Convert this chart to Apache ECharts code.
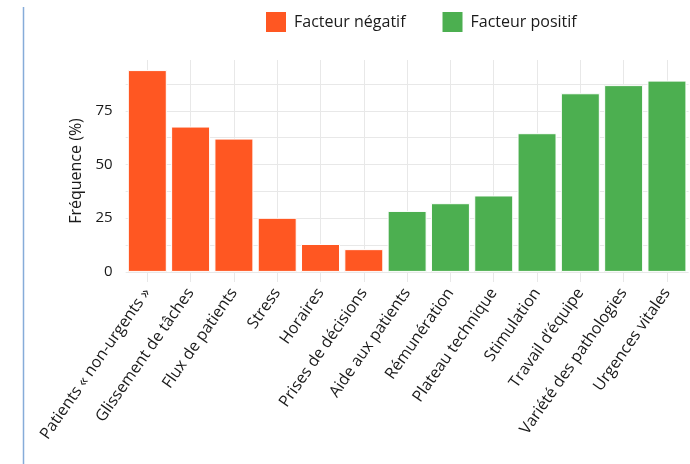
<!DOCTYPE html>
<html>
<head>
<meta charset="utf-8">
<script src="https://cdn.jsdelivr.net/npm/echarts@6/dist/echarts.min.js"></script>
<style>
html,body{margin:0;padding:0;background:#fff;}
#chart{width:690px;height:464px;}
</style>
</head>
<body>
<div id="chart"></div>
<script>
const categories = ["Patients « non-urgents »", "Glissement de tâches", "Flux de patients", "Stress", "Horaires", "Prises de décisions", "Aide aux patients", "Rémunération", "Plateau technique", "Stimulation", "Travail d’équipe", "Variété des pathologies", "Urgences vitales"];
const negatif = [94, 67.7, 62.1, 25.2, 13.0, 10.6, '-', '-', '-', '-', '-', '-', '-'];
const positif = ['-', '-', '-', '-', '-', '-', 28.4, 32.0, 35.6, 64.6, 83.2, 87.0, 89.1];
const yLabels = [0, 25, 50, 75];
const yGrid = [0, 12.5, 25, 37.5, 50, 62.5, 75, 87.5];

const FONT = '"Open Sans", "Noto Sans", sans-serif';
const chart = echarts.init(document.getElementById('chart'), null, {renderer: 'canvas'});
chart.setOption({
  animation: false,
  backgroundColor: '#ffffff',
  textStyle: {fontFamily: FONT},
  graphic: [{
    type: 'line',
    shape: {x1: 23.5, y1: 7, x2: 23.5, y2: 464},
    style: {stroke: '#86acd9', lineWidth: 1.5}
  }],
  legend: {
    left: 259, top: 5,
    itemWidth: 22, itemHeight: 22, itemGap: 35,
    icon: 'rect',
    textStyle: {fontSize: 16, color: '#1a1a1a', fontFamily: FONT, padding: [0, 0, 0, 2]},
    data: ['Facteur négatif', 'Facteur positif']
  },
  grid: {left: 125.65, right: 1.4, top: 60, bottom: 182, containLabel: false},
  xAxis: {
    type: 'category',
    data: categories,
    axisLine: {show: false},
    axisTick: {show: false},
    splitLine: {show: true, alignWithLabel: true, lineStyle: {color: '#e8e8e8', width: 1}},
    axisLabel: {interval: 0, rotate: 55, fontSize: 16, color: '#1a1a1a', margin: 8, fontFamily: FONT}
  },
  yAxis: {
    type: 'value',
    min: -4.7, max: 98.7,
    name: 'Fréquence (%)',
    nameLocation: 'middle',
    nameGap: 41,
    nameTextStyle: {fontSize: 16, color: '#1a1a1a', fontFamily: FONT},
    axisLine: {show: false},
    axisTick: {show: false, customValues: yGrid},
    axisLabel: {customValues: yLabels, fontSize: 15, color: '#1a1a1a', margin: 13, fontFamily: FONT},
    splitLine: {show: true, lineStyle: {color: '#e8e8e8', width: 1}}
  },
  series: [{
    name: 'Facteur négatif',
    type: 'bar',
    stack: 'f',
    barWidth: '90%',
    data: negatif,
    itemStyle: {color: '#FF5722', borderColor: '#ffffff', borderWidth: 1}
  }, {
    name: 'Facteur positif',
    type: 'bar',
    stack: 'f',
    barWidth: '90%',
    data: positif,
    itemStyle: {color: '#4CAF50', borderColor: '#ffffff', borderWidth: 1}
  }]
});
</script>
</body>
</html>
